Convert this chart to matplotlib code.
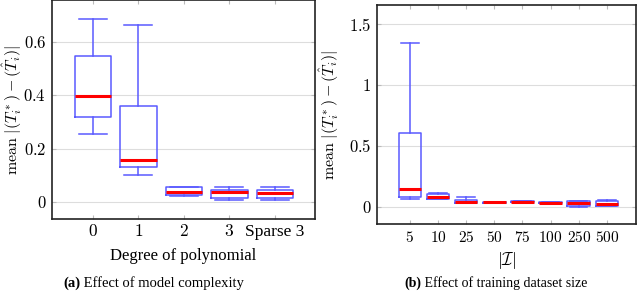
import matplotlib
matplotlib.use("Agg")
import matplotlib.pyplot as plt

plt.rcParams['font.family'] = 'serif'
plt.rcParams['font.serif'] = ['Liberation Serif']
plt.rcParams['mathtext.fontset'] = 'cm'
plt.rcParams['axes.formatter.use_mathtext'] = True

# panel (a): degree of polynomial
deg_labels = ['$0$', '$1$', '$2$', '$3$', 'Sparse 3']
deg_low = [0.255, 0.099, 0.023, 0.006, 0.006]
deg_q1 = [0.319, 0.131, 0.026, 0.014, 0.014]
deg_med = [0.396, 0.157, 0.035, 0.036, 0.034]
deg_q3 = [0.546, 0.358, 0.054, 0.045, 0.045]
deg_high = [0.687, 0.662, 0.054, 0.054, 0.054]

# panel (b): training dataset size
size_labels = ['$5$', '$10$', '$25$', '$50$', '$75$', '$100$', '$250$', '$500$']
size_low = [0.063, 0.063, 0.030, 0.033, 0.036, 0.031, 0.002, 0.005]
size_q1 = [0.082, 0.066, 0.033, 0.033, 0.036, 0.031, 0.005, 0.008]
size_med = [0.143, 0.077, 0.041, 0.037, 0.040, 0.035, 0.030, 0.020]
size_q3 = [0.609, 0.102, 0.055, 0.042, 0.045, 0.043, 0.045, 0.045]
size_high = [1.349, 0.115, 0.082, 0.042, 0.045, 0.043, 0.050, 0.055]

BLUE = '#5a5aff'
RED = '#ff0000'
YLAB = r'$\mathrm{mean}\ |(T_i^*) - (\hat{T}_i)|$'


def boxes(ax, low, q1, med, q3, high):
    stats = []
    for i in range(len(med)):
        stats.append(dict(whislo=low[i], q1=q1[i], med=med[i], q3=q3[i],
                          whishi=high[i], fliers=[]))
    ax.bxp(stats, positions=range(1, len(med) + 1), widths=0.8,
           showfliers=False,
           boxprops=dict(color=BLUE, linewidth=1.1),
           whiskerprops=dict(color=BLUE, linewidth=1.1),
           capprops=dict(color=BLUE, linewidth=1.1),
           medianprops=dict(color=RED, linewidth=2.2),
           capwidths=0.62)


def style(ax, xsize):
    ax.grid(axis='y', color='#dddddd', linewidth=0.8)
    ax.set_axisbelow(True)
    for s in ax.spines.values():
        s.set_color('#222222')
        s.set_linewidth(1.2)
    ax.tick_params(axis='both', direction='in', color='#bbbbbb', length=3,
                   top=True, right=True)
    ax.tick_params(axis='x', pad=4, labelsize=xsize)
    ax.tick_params(axis='y', pad=4, labelsize=12)


fig = plt.figure(figsize=(6.4, 3.07), dpi=100)

ax1 = fig.add_axes([0.081, 0.287, 0.411, 0.713])
boxes(ax1, deg_low, deg_q1, deg_med, deg_q3, deg_high)
ax1.set_xlim(0.1, 5.88)
ax1.set_ylim(-0.064, 0.757)
ax1.set_yticks([0, 0.2, 0.4, 0.6])
ax1.set_yticklabels(['$0$', '$0.2$', '$0.4$', '$0.6$'])
ax1.set_xticks(range(1, 6))
ax1.set_xticklabels(deg_labels)
style(ax1, 12.5)
ax1.set_xlabel('Degree of polynomial', fontsize=12)
ax1.xaxis.set_label_coords(0.5, -0.135)
ax1.set_ylabel(YLAB, fontsize=11.5)
ax1.yaxis.set_label_coords(-0.107, 0.5)

ax2 = fig.add_axes([0.589, 0.270, 0.405, 0.714])
boxes(ax2, size_low, size_q1, size_med, size_q3, size_high)
ax2.set_xlim(-0.17, 9.04)
ax2.set_ylim(-0.142, 1.659)
ax2.set_yticks([0, 0.5, 1, 1.5])
ax2.set_yticklabels(['$0$', '$0.5$', '$1$', '$1.5$'])
ax2.set_xticks(range(1, 9))
ax2.set_xticklabels(size_labels)
style(ax2, 11)
ax2.set_xlabel(r'$|\mathcal{I}|$', fontsize=12.5)
ax2.xaxis.set_label_coords(0.5, -0.116)
ax2.set_ylabel(YLAB, fontsize=11.5)
ax2.yaxis.set_label_coords(-0.14, 0.5)

fig.text(0.125, 0.078, '(a)', ha='right', va='center', fontsize=10.5,
         fontweight='bold')
fig.text(0.125, 0.078, ' Effect of model complexity', ha='left', va='center',
         fontsize=10.5)
fig.text(0.658, 0.078, '(b)', ha='right', va='center', fontsize=10,
         fontweight='bold')
fig.text(0.658, 0.078, ' Effect of training dataset size', ha='left',
         va='center', fontsize=10)

fig.savefig('out.png', dpi=100)
